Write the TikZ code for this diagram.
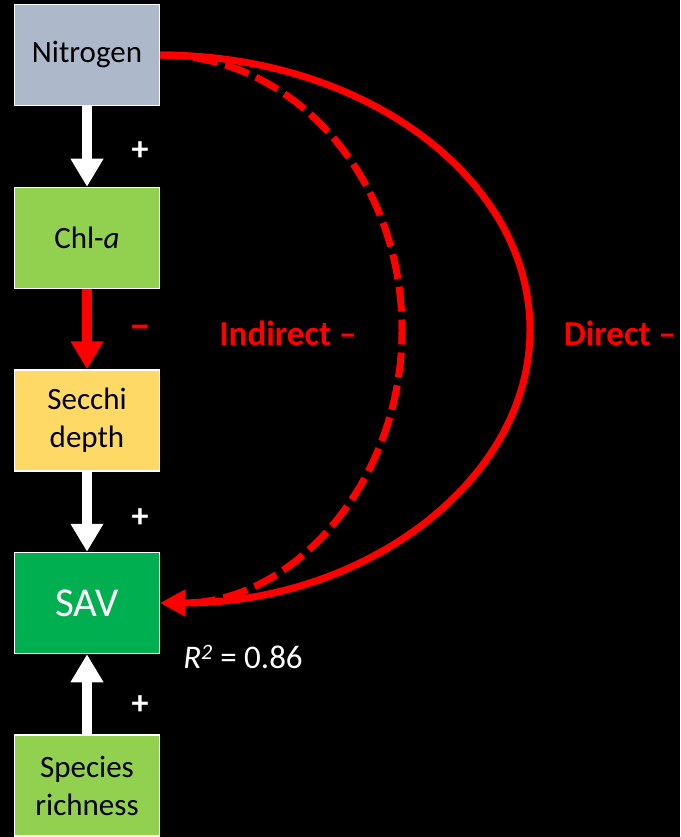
\documentclass[tikz,border=0pt]{standalone}
\usepackage{fontspec}
\setmainfont{Carlito}
\usetikzlibrary{arrows.meta}
\definecolor{nitro}{HTML}{ADB9CA}
\definecolor{lgreen}{HTML}{92D050}
\definecolor{secchi}{HTML}{FFD966}
\definecolor{sav}{HTML}{00B050}
\definecolor{pred}{HTML}{FF0000}
\begin{document}
\begin{tikzpicture}[x=1pt,y=-1pt,
  box/.style={draw=white,line width=1.5pt,minimum width=145pt,minimum height=101pt,inner sep=0pt,align=center,font=\fontsize{31}{38}\selectfont,text=black},
  bigarrow/.style={line width=10pt,-{Triangle[length=28pt,width=31pt]}},
  curvearrow/.style={pred,line width=7pt,-{Triangle[length=25pt,width=25pt]}},
  sign/.style={font=\bfseries\fontsize{34}{34}\selectfont,text=white},
  effect/.style={font=\bfseries\fontsize{35}{35}\selectfont,text=pred}]
\fill[black] (0,0) rectangle (680,837);
\useasboundingbox (0,0) rectangle (680,837);
\node[box,fill=nitro] (N) at (87,55) {Nitrogen};
\node[box,fill=lgreen] (C) at (87,238) {Chl-\textit{a}};
\node[box,fill=secchi] (D) at (87,420.5) {Secchi\\depth};
\node[box,fill=sav,text=white,font=\fontsize{41}{41}\selectfont] (S) at (87,603) {SAV};
\node[box,fill=lgreen] (R) at (87,785.5) {Species\\richness};
\draw[bigarrow,white] (N.south) -- (C.north);
\draw[bigarrow,pred] (C.south) -- (D.north);
\draw[bigarrow,white] (D.south) -- (S.north);
\draw[bigarrow,white] (R.north) -- (S.south);
\node[sign] (p1) at (140,151) {+};
\node[sign,text=pred,font=\bfseries\fontsize{44}{44}\selectfont] (m1) at (140,332) {–};
\node[sign] (p2) at (140,518) {+};
\node[sign] (p3) at (140,705) {+};
\coordinate (imid) at (402,330);
\coordinate (dmid) at (530,330);
\draw[curvearrow,dash pattern=on 25pt off 8pt] (N.east) .. controls +(134,0) and +(0,-152) .. (imid) .. controls +(0,151) and +(134,0) .. (S.east);
\draw[curvearrow] (N.east) .. controls +(204,0) and +(0,-152) .. (dmid) .. controls +(0,151) and +(204,0) .. (S.east);
\node[effect] (ind) at (288,333) {Indirect –};
\node[effect] (dir) at (620,333) {Direct –};
\node[font=\fontsize{33}{33}\selectfont,text=white] (r2) at (243,657) {\textit{R\textsuperscript{\fontsize{22}{22}\selectfont 2}} = 0.86};
\end{tikzpicture}
\end{document}
